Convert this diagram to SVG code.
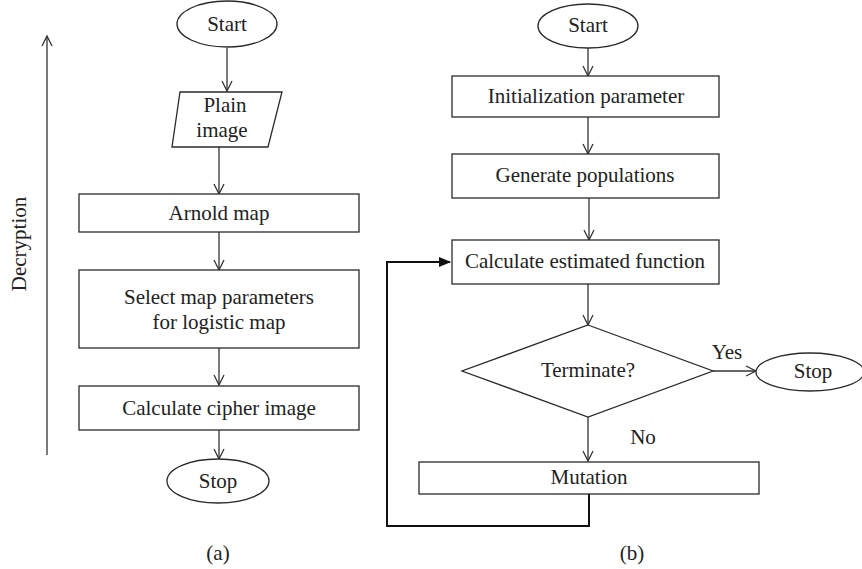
<svg xmlns="http://www.w3.org/2000/svg" width="862" height="569" viewBox="0 0 862 569">
<style>
.s{fill:#fff;stroke:#2a2a2a;stroke-width:1.3}
.t{font-family:"Liberation Serif",serif;font-size:21px;fill:#222;text-anchor:middle;dominant-baseline:central}
.c{fill:none;stroke:#333;stroke-width:1.3}
.k{fill:none;stroke:#111;stroke-width:2}
</style>
<defs>
<marker id="v" viewBox="0 0 12 12" refX="11" refY="6" markerWidth="12" markerHeight="12" markerUnits="userSpaceOnUse" orient="auto">
<path d="M1,1 L11,6 L1,11" fill="none" stroke="#333" stroke-width="1.3"/>
</marker>
<marker id="f" viewBox="0 0 12 12" refX="11" refY="6" markerWidth="12" markerHeight="12" markerUnits="userSpaceOnUse" orient="auto">
<path d="M0,1 L12,6 L0,11 Z" fill="#111"/>
</marker>
</defs>
<rect width="862" height="569" fill="#fff"/>
<g id="connectors">
<line class="c" x1="227" y1="48" x2="227" y2="91" marker-end="url(#v)"/>
<line class="c" x1="219" y1="147" x2="219" y2="194" marker-end="url(#v)"/>
<line class="c" x1="219" y1="232" x2="219" y2="270" marker-end="url(#v)"/>
<line class="c" x1="219" y1="348" x2="219" y2="385" marker-end="url(#v)"/>
<line class="c" x1="219" y1="430" x2="219" y2="459" marker-end="url(#v)"/>
<line class="c" x1="47" y1="455" x2="47" y2="36" marker-end="url(#v)"/>
<line class="c" x1="588" y1="48" x2="588" y2="76" marker-end="url(#v)"/>
<line class="c" x1="588" y1="117" x2="588" y2="154" marker-end="url(#v)"/>
<line class="c" x1="589" y1="198" x2="589" y2="240" marker-end="url(#v)"/>
<line class="c" x1="588" y1="284" x2="588" y2="325" marker-end="url(#v)"/>
<line class="c" x1="713" y1="371" x2="756" y2="371" marker-end="url(#v)"/>
<line class="c" x1="588" y1="417" x2="588" y2="461" marker-end="url(#v)"/>
<polyline class="k" points="589,494 589,526 387,526 387,262 450,262" marker-end="url(#f)"/>
</g>
<g id="a-start"><ellipse class="s" cx="227" cy="24" rx="50" ry="23"/><text class="t" x="227" y="24">Start</text></g>
<g id="a-plain"><polygon class="s" points="180,92 282,92 268,147 172,147"/><text class="t" x="225" y="105">Plain</text><text class="t" x="222" y="130">image</text></g>
<g id="a-arnold"><rect class="s" x="79" y="194" width="280" height="38"/><text class="t" x="219" y="213">Arnold map</text></g>
<g id="a-select"><rect class="s" x="79" y="270" width="280" height="78"/><text class="t" x="219" y="297">Select map parameters</text><text class="t" x="219" y="322">for logistic map</text></g>
<g id="a-cipher"><rect class="s" x="79" y="386" width="280" height="44"/><text class="t" x="219" y="408">Calculate cipher image</text></g>
<g id="a-stop"><ellipse class="s" cx="218" cy="481" rx="51" ry="22"/><text class="t" x="218" y="481">Stop</text></g>
<g id="decryption"><text class="t" transform="translate(19,244) rotate(-90)">Decryption</text></g>
<g id="label-a"><text class="t" x="218" y="553">(a)</text></g>
<g id="b-start"><ellipse class="s" cx="588" cy="26" rx="50" ry="22"/><text class="t" x="588" y="25">Start</text></g>
<g id="b-init"><rect class="s" x="452" y="76" width="267" height="41"/><text class="t" x="586" y="96">Initialization parameter</text></g>
<g id="b-gen"><rect class="s" x="452" y="154" width="267" height="44"/><text class="t" x="585" y="175">Generate populations</text></g>
<g id="b-calc"><rect class="s" x="452" y="240" width="267" height="44"/><text class="t" x="585" y="261">Calculate estimated function</text></g>
<g id="b-term"><polygon class="s" points="588,325 713,371 588,417 462,371"/><text class="t" x="588" y="370">Terminate?</text></g>
<g id="b-stop"><ellipse class="s" cx="810" cy="372" rx="54" ry="19"/><text class="t" x="813" y="371">Stop</text></g>
<g id="b-mut"><rect class="s" x="419" y="462" width="340" height="32"/><text class="t" x="589" y="477">Mutation</text></g>
<g id="labels"><text class="t" x="727" y="352">Yes</text><text class="t" x="643" y="437">No</text><text class="t" x="632" y="553">(b)</text></g>
</svg>
